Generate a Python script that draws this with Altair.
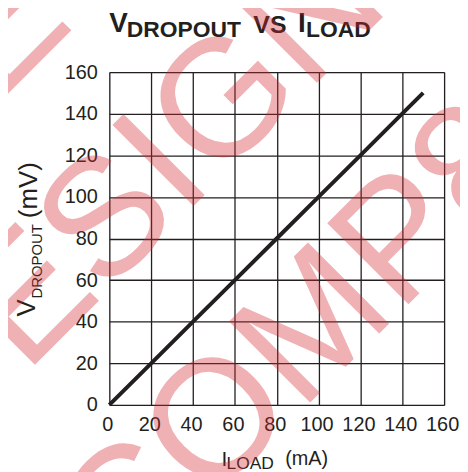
import altair as alt
import pandas as pd

# ---- data ----
i_load = [0, 20, 40, 60, 80, 100, 120, 140, 150]          # mA
v_dropout = [0, 20, 40, 60, 80, 100, 120, 140, 150]       # mV
x_ticks = [0, 20, 40, 60, 80, 100, 120, 140, 160]
y_ticks = [0, 20, 40, 60, 80, 100, 120, 140, 160]

title_parts = ["V", "DROPOUT", "VS", "I", "LOAD"]
ytitle_parts = ["V", "DROPOUT", "(mV)"]
xtitle_parts = ["I", "LOAD", "(mA)"]
watermark_lines = ["NEW", "DESIGN", "COMP8"]

INK = "#231f20"
FONT = "Liberation Sans"
W, H = 337, 335

df = pd.DataFrame({"i_load": i_load, "v_dropout": v_dropout})

line = alt.Chart(df).mark_line(color=INK, strokeWidth=4, strokeCap="butt").encode(
    x=alt.X("i_load:Q",
            scale=alt.Scale(domain=[0, 160], nice=False),
            axis=alt.Axis(values=x_ticks, title=None, grid=True, gridColor=INK,
                          gridWidth=1.3, gridOpacity=1, ticks=False, domain=False,
                          labelFontSize=20, labelColor=INK, labelFont=FONT,
                          labelPadding=10, labelOffset=-2, labelFlush=False,
                          labelOverlap=False)),
    y=alt.Y("v_dropout:Q",
            scale=alt.Scale(domain=[0, 160], nice=False),
            axis=alt.Axis(values=y_ticks, title=None, grid=True, gridColor=INK,
                          gridWidth=1.3, gridOpacity=1, ticks=False, domain=False,
                          labelFontSize=20, labelColor=INK, labelFont=FONT,
                          labelPadding=12, labelFlush=False, labelOverlap=False)),
)


def txt(s, x, y, size, bold=False, angle=0, color=INK, opacity=1.0,
        align="left", baseline="alphabetic"):
    kw = dict(font=FONT, fontSize=size, color=color, align=align,
              baseline=baseline, fontWeight="bold" if bold else "normal",
              opacity=opacity)
    if angle:
        kw["angle"] = angle
    return alt.Chart(pd.DataFrame({"t": [s]})).mark_text(**kw).encode(
        text="t:N", x=alt.value(x), y=alt.value(y))


# positions below are relative to the plot origin (page 110, 71)
title = [
    txt(title_parts[0], 0, -40, 28, bold=True),
    txt(title_parts[1], 17.5, -35, 23, bold=True),
    txt(title_parts[2], 145, -39, 25, bold=True),
    txt(title_parts[3], 190, -40, 28, bold=True),
    txt(title_parts[4], 198, -35, 23, bold=True),
]
ytitle = [
    txt(ytitle_parts[0], -75, 246, 26, angle=270),
    txt(ytitle_parts[1], -68, 228, 15, angle=270),
    txt(ytitle_parts[2], -73, 147, 26, angle=270),
]
xtitle = [
    txt(xtitle_parts[0], 113, 396, 21),
    txt(xtitle_parts[1], 118, 400, 17.5),
    txt(xtitle_parts[2], 177, 395, 20),
]
wm_color = "#d42a30"
watermark = [
    txt(watermark_lines[0], -95, -56, 168, angle=315, color=wm_color, opacity=0.36,
        align="center", baseline="middle"),
    txt(watermark_lines[1], 22, 127, 168, angle=315, color=wm_color, opacity=0.36,
        align="center", baseline="middle"),
    txt(watermark_lines[2], 190, 274, 168, angle=315, color=wm_color, opacity=0.36,
        align="center", baseline="middle"),
]

chart = alt.layer(line, *title, *ytitle, *xtitle, *watermark).properties(
    width=W, height=H,
    autosize=alt.AutoSizeParams(type="none"),
    padding={"left": 102, "top": 63, "right": 16, "bottom": 66},
).configure_view(stroke=INK, strokeWidth=3).configure(background="white")

chart.save("out.html", embed_options={"renderer": "svg", "actions": False})
